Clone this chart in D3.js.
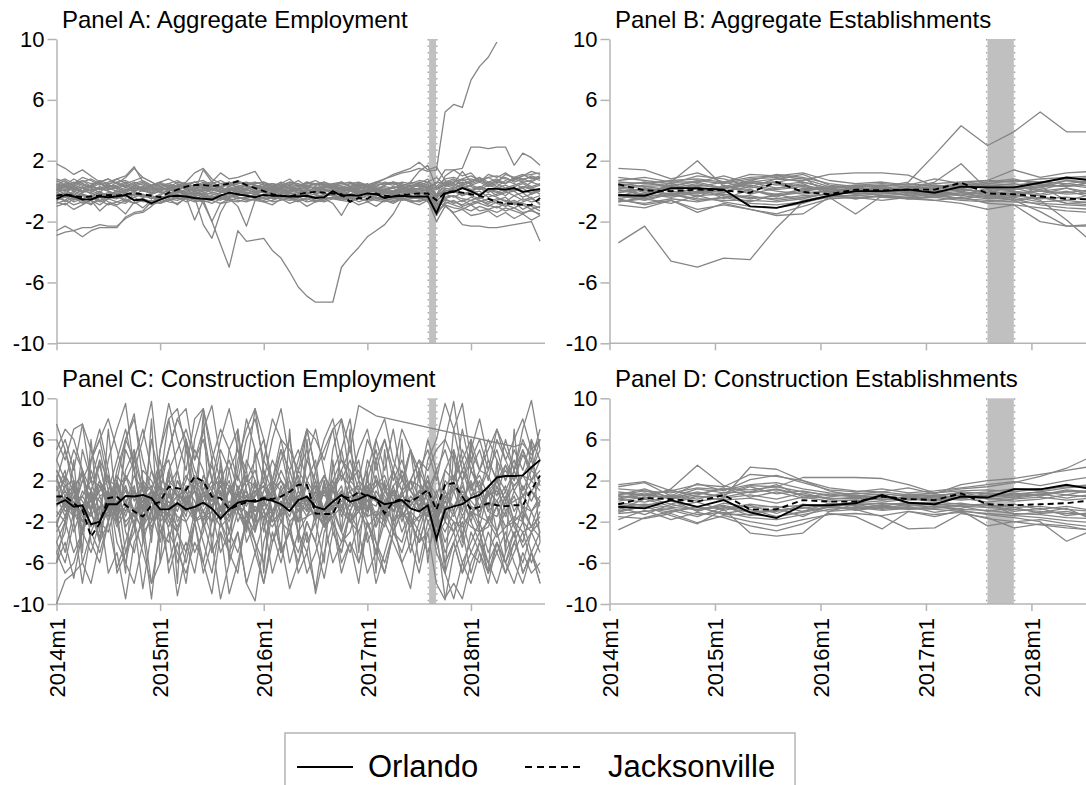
<!DOCTYPE html>
<html>
<head>
<meta charset="utf-8">
<script src="https://cdn.jsdelivr.net/npm/d3@7"></script>
<style>
  body { margin: 0; background: #fff; }
  svg { display: block; font-family: "Liberation Sans", Arial, sans-serif; }
</style>
</head>
<body>
<div id="chart"></div>
<script>

// month index 0 = 2014m1, quarterly points sit on the middle month
var monthIdx = d3.range(57);
var quarterIdx = d3.range(19).map(function (q) { return q * 3 + 1; });
var tickMonths = [0, 12, 24, 36, 48];
var tickLabels = ["2014m1", "2015m1", "2016m1", "2017m1", "2018m1"];
var yTicks = [10, 6, 2, -2, -6, -10];

// Panel A: aggregate employment (monthly)
var orlAggEmp = [-0.5,-0.25,-0.35,-0.55,-0.55,-0.35,-0.4,-0.35,-0.25,-0.6,-0.55,-0.8,-0.55,-0.35,-0.3,-0.35,-0.45,-0.5,-0.55,-0.3,-0.1,-0.2,-0.3,-0.4,-0.25,-0.3,-0.3,-0.35,-0.35,-0.3,-0.45,-0.4,0.0,-0.3,-0.25,-0.3,-0.15,-0.2,-0.45,-0.35,-0.3,-0.35,-0.35,-0.35,-1.45,-0.15,-0.05,0.2,0.0,-0.3,0.15,0.15,0.1,0.2,-0.05,0.05,0.15];
var jaxAggEmp = [-0.3,-0.2,-0.3,-0.4,-0.35,-0.3,-0.25,-0.3,-0.2,-0.15,-0.2,-0.3,-0.4,-0.1,0.1,0.3,0.4,0.4,0.35,0.4,0.5,0.65,0.4,0.2,0.0,-0.2,-0.3,-0.35,-0.2,-0.1,-0.05,-0.1,-0.15,-0.2,-0.7,-0.45,-0.5,-0.15,-0.3,-0.35,-0.25,-0.2,-0.15,-0.15,-0.6,-0.1,0.0,-0.1,-0.2,-0.3,-0.5,-0.7,-0.8,-0.85,-0.9,-0.9,-0.45];
var otherAggEmp = [
  [0.5,0.3,0.6,0.4,0.2,0.5,0.3,0.4,0.6,0.2,0.3,0.1,0.2,0.4,0.3,0.5,0.6,0.4,0.3,0.5,0.6,0.4,0.3,0.2,0.3,0.1,0.2,0.3,0.4,0.2,0.3,0.1,0.2,0.3,0.2,0.4,0.3,0.2,0.1,0.3,0.2,0.4,0.3,0.2,0.6,0.5,0.4,0.6,0.5,0.7,0.4,0.6,0.5,0.8,0.6,0.7,0.9],
  [-0.6,-0.4,-0.7,-0.5,-0.3,-0.6,-0.4,-0.5,-0.3,-0.6,-0.5,-0.7,-0.4,-0.3,-0.5,-0.4,-0.6,-0.5,-0.4,-0.6,-0.3,-0.5,-0.4,-0.3,-0.5,-0.4,-0.3,-0.5,-0.4,-0.6,-0.3,-0.4,-0.5,-0.3,-0.4,-0.5,-0.3,-0.4,-0.6,-0.5,-0.4,-0.3,-0.5,-0.4,-1.0,-0.6,-0.7,-0.9,-0.6,-0.8,-1.0,-0.7,-0.9,-1.1,-0.8,-1.0,-1.3],
  [0.2,0.0,0.3,-0.1,0.1,0.2,0.0,-0.2,0.1,0.3,0.0,-0.1,0.2,0.1,-0.1,0.0,0.2,0.3,0.1,0.0,0.2,0.1,-0.1,0.0,0.1,0.2,0.0,-0.1,0.1,0.0,0.2,0.1,0.0,-0.1,0.1,0.2,0.0,0.1,-0.1,0.0,0.2,0.1,0.0,0.1,-0.5,0.2,0.1,0.3,0.0,0.2,-0.1,0.3,0.1,0.0,0.2,-0.2,0.1],
  [-0.2,-0.4,-0.1,-0.3,-0.5,-0.2,-0.3,-0.1,-0.4,-0.2,-0.3,-0.5,-0.2,-0.1,-0.3,-0.2,-0.4,-0.1,-0.2,-0.3,-0.1,-0.2,-0.3,-0.4,-0.2,-0.1,-0.3,-0.2,-0.1,-0.3,-0.2,-0.4,-0.1,-0.2,-0.3,-0.1,-0.2,-0.3,-0.2,-0.1,-0.3,-0.2,-0.1,-0.3,-0.8,-0.4,-0.3,-0.5,-0.6,-0.4,-0.7,-0.5,-0.6,-0.8,-0.5,-0.7,-0.6],
  [0.8,0.6,0.4,0.7,0.5,0.6,0.8,0.5,0.3,0.6,0.4,0.2,0.4,0.5,0.3,0.4,0.2,0.5,0.6,0.3,0.4,0.5,0.6,0.4,0.3,0.5,0.4,0.2,0.3,0.5,0.4,0.6,0.3,0.4,0.5,0.3,0.2,0.4,0.5,0.6,0.4,0.5,0.7,0.6,0.3,0.8,0.9,0.7,0.8,0.6,0.9,1.0,0.8,0.7,1.0,1.1,1.2],
  [-0.8,-0.6,-0.9,-0.7,-0.8,-0.6,-0.9,-0.7,-0.5,-0.8,-0.6,-0.9,-0.7,-0.5,-0.6,-0.4,-0.5,-0.7,-0.6,-0.4,-0.5,-0.6,-0.7,-0.5,-0.6,-0.4,-0.5,-0.6,-0.5,-0.7,-0.6,-0.5,-0.4,-0.6,-0.7,-0.5,-0.6,-0.4,-0.5,-0.6,-0.5,-0.7,-0.6,-0.5,-1.3,-0.9,-1.1,-1.2,-0.9,-1.3,-1.2,-1.4,-1.1,-1.3,-1.5,-1.2,-1.6],
  [0.0,0.3,0.1,0.5,0.2,-0.1,0.4,0.2,0.0,0.3,0.5,0.2,0.0,0.2,0.4,0.1,0.0,0.2,0.4,0.2,0.1,-0.1,0.2,0.3,0.1,0.0,0.2,0.4,0.1,0.2,0.0,0.3,0.2,0.1,0.3,0.0,0.1,0.3,0.2,0.0,0.1,0.2,0.4,0.3,-0.2,0.3,0.5,0.2,0.4,0.6,0.3,0.5,0.2,0.4,0.6,0.3,0.5],
  [-0.4,-0.1,-0.5,-0.2,-0.6,-0.3,-0.1,-0.4,-0.2,0.0,-0.3,-0.4,-0.6,-0.2,0.0,-0.2,-0.1,-0.3,-0.5,-0.1,0.0,-0.3,-0.1,-0.2,0.0,-0.2,-0.4,-0.1,-0.3,-0.2,0.0,-0.2,-0.3,-0.4,0.0,-0.2,-0.1,0.0,-0.3,-0.2,0.0,-0.1,-0.2,0.0,-1.1,-0.2,-0.4,-0.1,-0.3,-0.5,-0.2,-0.4,-0.7,-0.3,-0.6,-0.4,-0.9],
  [0.6,0.8,0.5,0.9,0.7,0.4,0.6,0.8,0.5,0.7,0.9,0.6,0.3,0.5,0.7,0.4,0.6,0.3,0.5,0.7,0.4,0.3,0.5,0.6,0.4,0.5,0.3,0.6,0.4,0.5,0.7,0.4,0.5,0.6,0.3,0.5,0.4,0.6,0.5,0.4,0.6,0.5,0.4,0.6,0.9,0.4,0.6,0.8,1.0,0.7,0.9,0.6,1.1,0.9,0.7,1.0,0.8],
  [-0.3,-0.7,-0.4,-0.8,-0.6,-0.9,-0.5,-0.7,-0.8,-0.4,-0.7,-0.6,-0.8,-0.6,-0.4,-0.7,-0.5,-0.3,-0.6,-0.8,-0.7,-0.4,-0.6,-0.5,-0.7,-0.6,-0.4,-0.5,-0.7,-0.4,-0.6,-0.7,-0.5,-0.6,-0.4,-0.7,-0.5,-0.6,-0.7,-0.4,-0.6,-0.5,-0.4,-0.7,-1.5,-0.8,-0.6,-1.0,-0.8,-0.6,-0.9,-1.1,-0.8,-0.6,-0.9,-1.2,-1.0],
  [0.3,0.5,0.2,0.0,0.4,0.6,0.1,0.3,0.5,0.0,0.2,0.4,0.6,0.3,0.1,0.3,0.4,0.2,0.0,0.3,0.5,0.2,0.1,0.4,0.2,0.3,0.5,0.1,0.2,0.4,0.1,0.3,0.4,0.2,0.0,0.3,0.5,0.1,0.3,0.2,0.4,0.0,0.2,0.5,-0.4,0.6,0.3,0.8,0.4,0.2,0.6,0.3,0.7,0.5,0.2,0.6,0.4],
  [-0.5,-0.3,-0.6,-0.2,-0.4,-0.7,-0.5,-0.2,-0.6,-0.4,-0.2,-0.5,-0.3,-0.6,-0.4,-0.3,-0.2,-0.4,-0.3,-0.5,-0.2,-0.4,-0.5,-0.2,-0.3,-0.5,-0.4,-0.3,-0.2,-0.4,-0.5,-0.3,-0.2,-0.5,-0.4,-0.3,-0.5,-0.2,-0.4,-0.3,-0.5,-0.4,-0.3,-0.4,-1.2,-0.5,-0.8,-0.6,-0.9,-0.7,-0.5,-0.8,-1.0,-0.7,-1.2,-0.9,-1.1],
  [0.7,0.4,0.8,0.5,0.3,0.7,0.5,0.6,0.2,0.5,0.7,0.4,0.6,0.8,0.5,0.3,0.6,0.7,0.4,0.2,0.5,0.7,0.4,0.5,0.6,0.3,0.4,0.6,0.5,0.3,0.5,0.6,0.4,0.5,0.6,0.4,0.3,0.5,0.4,0.6,0.5,0.3,0.6,0.4,0.2,0.6,0.8,0.5,0.7,0.9,0.6,0.8,0.5,0.9,0.8,0.6,0.9],
  [-0.1,0.1,-0.3,0.2,-0.2,0.0,-0.4,0.1,-0.1,-0.3,0.1,-0.2,0.0,-0.3,0.2,-0.1,-0.2,0.1,-0.1,0.0,-0.2,0.1,-0.1,-0.2,0.0,0.1,-0.2,0.0,-0.1,0.1,-0.2,0.0,0.1,-0.1,-0.2,0.0,0.1,-0.1,0.0,-0.2,0.0,0.1,-0.2,-0.1,-0.7,-0.1,0.1,-0.3,0.0,-0.2,0.1,-0.3,-0.1,0.0,-0.4,-0.2,0.0],
  [-0.7,-0.9,-0.5,-0.6,-0.9,-0.4,-0.7,-0.9,-0.6,-0.8,-0.5,-0.7,-0.5,-0.7,-0.8,-0.5,-0.7,-0.6,-0.8,-0.5,-0.6,-0.7,-0.5,-0.6,-0.4,-0.7,-0.6,-0.4,-0.6,-0.5,-0.7,-0.6,-0.4,-0.5,-0.6,-0.4,-0.7,-0.5,-0.6,-0.7,-0.5,-0.6,-0.7,-0.5,-1.6,-0.7,-0.9,-1.1,-1.3,-1.0,-1.2,-1.0,-1.3,-1.1,-1.4,-1.3,-1.5],
  [0.4,0.7,0.3,0.6,0.8,0.5,0.2,0.6,0.7,0.4,0.6,0.3,0.5,0.2,0.6,0.5,0.3,0.6,0.4,0.3,0.6,0.2,0.4,0.5,0.6,0.4,0.2,0.5,0.3,0.6,0.4,0.5,0.3,0.2,0.5,0.6,0.4,0.3,0.6,0.5,0.3,0.6,0.5,0.3,0.1,0.5,0.7,0.4,0.6,0.8,0.5,0.7,0.9,0.6,0.8,0.9,0.7],
  [-0.4,-0.6,-0.2,-0.5,-0.3,-0.1,-0.5,-0.3,-0.7,-0.2,-0.4,-0.3,-0.5,-0.4,-0.2,-0.5,-0.3,-0.2,-0.4,-0.3,-0.4,-0.3,-0.2,-0.5,-0.4,-0.2,-0.3,-0.4,-0.2,-0.3,-0.4,-0.2,-0.3,-0.4,-0.5,-0.2,-0.3,-0.5,-0.4,-0.2,-0.3,-0.4,-0.5,-0.3,-0.9,-0.5,-0.3,-0.7,-0.4,-0.6,-0.8,-0.6,-0.4,-0.9,-0.7,-0.5,-0.8],
  [0.1,0.0,0.2,-0.1,0.3,0.1,0.2,0.0,-0.1,0.2,0.1,0.3,-0.1,0.0,0.2,0.3,0.0,-0.2,0.2,0.1,0.0,0.2,0.3,0.0,-0.1,0.1,0.3,0.2,0.0,0.1,-0.1,0.2,0.3,0.1,0.0,0.2,0.3,0.0,0.1,0.2,-0.1,0.2,0.1,0.3,-0.3,0.0,0.2,0.4,0.1,0.3,0.0,0.2,0.4,0.1,0.3,0.2,0.0],
  [1.8,1.5,1.1,1.4,1.0,0.6,0.8,0.5,0.9,1.5,0.9,0.6,0.3,0.1,0.4,0.2,0.0,1.4,0.6,1.2,0.8,0.9,1.1,1.3,0.4,0.2,0.5,0.8,0.3,0.6,0.5,0.4,0.2,0.6,0.3,0.5,0.2,0.1,0.4,0.6,0.2,0.3,0.5,0.8,-0.3,1.0,1.4,1.0,1.2,0.6,1.1,0.9,1.2,0.8,1.0,1.3,1.1],
  [-1.0,-0.8,-1.2,-0.9,-0.6,-1.3,-0.8,-1.0,-1.5,-0.7,-1.1,-0.6,-0.8,-0.5,-0.9,-0.4,-1.9,-0.6,-2.0,-0.8,-0.5,-1.0,-2.3,-0.6,-0.7,-0.9,-0.5,-0.8,-0.6,-1.0,-0.7,-0.5,-0.8,-1.6,-0.6,-0.9,-0.7,-1.0,-0.6,-0.8,-0.5,-0.7,-0.9,-0.6,-2.0,-1.0,-1.4,-1.2,-1.6,-1.5,-1.3,-1.7,-1.4,-1.8,-1.5,-1.9,-1.6],
  [-2.9,-2.7,-2.6,-2.4,-2.4,-2.2,-2.3,-2.3,-1.8,-1.5,-1.4,-1.0,-0.5,-0.2,0.1,-0.1,0.2,0.0,0.1,0.3,0.0,0.2,0.1,-0.1,0.2,0.0,0.1,0.2,-0.1,0.0,0.2,0.1,0.0,0.2,0.1,-0.1,0.0,0.2,0.1,0.0,-0.1,0.1,0.2,0.0,-0.4,0.0,0.1,-0.2,0.0,0.3,0.1,-0.1,0.2,0.0,0.3,0.1,-0.2],
  [-2.6,-2.3,-2.6,-3.0,-2.6,-2.4,-2.4,-2.4,-1.7,-1.4,-1.3,-0.7,-0.3,0.2,-0.1,0.1,-0.2,0.0,0.2,-0.1,0.1,0.0,-0.2,0.1,0.0,-0.1,0.1,0.0,0.2,-0.1,0.0,0.1,-0.2,0.0,0.1,0.0,-0.1,0.1,0.0,-0.2,0.1,0.0,-0.1,0.1,-0.6,-0.2,0.0,-0.3,-0.1,0.0,-0.4,-0.2,0.0,-0.3,-0.1,-0.5,-0.3],
  [0.2,0.4,0.1,0.3,0.0,0.2,0.4,0.3,0.1,0.2,0.0,0.3,0.1,0.2,0.4,0.1,-0.3,-0.8,-2.0,-3.5,-5.0,-2.6,-3.3,-3.2,-3.1,-3.9,-4.4,-5.3,-6.3,-6.9,-7.3,-7.3,-7.3,-5.0,-4.3,-3.7,-3.0,-2.6,-2.2,-1.5,-0.5,0.6,1.3,1.7,0.2,0.4,0.2,0.5,0.3,0.1,0.4,0.2,0.0,0.3,0.5,0.2,0.4],
  [0.1,-0.2,0.3,0.0,-0.1,0.2,0.0,-0.3,0.1,0.0,0.2,-0.1,0.0,0.3,0.1,-0.2,-0.4,-2.2,-3.1,-1.4,-0.4,-0.2,0.1,-0.1,0.0,0.2,-0.1,0.0,0.1,-0.2,0.0,0.1,-0.1,0.0,0.2,-0.1,0.0,0.1,-0.2,0.0,0.1,-0.1,0.0,0.2,-0.3,0.1,-0.1,0.2,0.0,-0.2,0.1,0.0,-0.3,0.2,0.0,-0.1,0.1],
  [0.3,0.1,0.4,0.2,0.0,0.3,0.1,0.2,0.4,0.1,0.3,0.0,0.2,0.1,0.3,0.2,0.0,0.1,0.3,0.2,0.1,0.3,0.0,0.2,0.1,0.3,0.2,0.0,0.1,0.3,0.2,0.1,0.0,0.2,0.3,0.1,0.4,0.6,0.8,1.0,1.2,1.3,1.5,1.3,1.4,5.2,5.7,5.5,7.3,8.2,8.8,9.8,null,null,null,null,null],
  [0.1,0.3,0.0,0.2,0.4,0.1,0.3,0.2,0.0,0.4,0.2,0.1,0.3,0.0,0.2,0.4,0.1,0.3,0.2,0.0,0.3,0.1,0.2,0.4,0.1,0.3,0.0,0.2,0.1,0.3,0.2,0.4,0.1,0.0,0.2,0.3,0.1,0.2,0.0,0.3,0.1,0.2,0.4,0.2,0.5,1.4,1.4,1.5,2.9,2.9,2.8,2.9,2.9,1.7,2.5,2.2,1.7],
  [-0.1,-0.3,0.0,-0.2,-0.4,-0.1,-0.3,0.0,-0.2,-0.1,-0.4,-0.2,0.0,-0.3,-0.1,-0.2,0.0,-0.3,-0.1,-0.2,-0.4,0.0,-0.2,-0.1,-0.3,0.0,-0.2,-0.1,-0.3,-0.2,0.0,-0.1,-0.3,-0.2,0.0,-0.1,-0.2,-0.3,0.0,-0.1,-0.2,0.0,-0.1,-0.2,-0.8,-0.9,-1.5,-2.2,-2.3,-2.3,-2.4,-2.4,-2.3,-2.2,-2.1,-2.0,-3.3],
  [0.4,0.2,0.5,0.7,0.3,0.6,0.4,0.8,1.0,1.6,0.6,0.3,0.5,0.2,0.4,0.6,1.2,1.5,0.8,0.5,0.3,0.6,0.4,0.2,0.5,0.3,0.6,0.4,0.7,0.3,0.5,0.2,0.4,0.6,0.3,0.5,0.3,0.5,0.8,1.1,1.3,1.5,1.9,1.4,1.6,0.7,0.5,1.3,0.6,0.9,0.4,0.7,0.5,0.9,1.1,0.8,1.0]
];

// Panel B: aggregate establishments (quarterly)
var orlAggEst = [-0.25,-0.3,0.2,0.2,0.1,-1.0,-1.1,-0.7,-0.3,0.0,0.0,0.1,-0.1,0.3,0.25,0.25,0.55,0.9,0.7];
var jaxAggEst = [0.45,0.05,0.0,0.1,0.05,-0.1,0.6,-0.05,-0.2,0.1,0.05,0.1,0.1,0.55,-0.15,-0.2,-0.35,-0.5,-0.55];
var otherAggEst = [
  [0.6,0.5,0.7,0.8,0.6,0.9,1.0,0.8,0.3,0.4,0.5,0.4,0.5,0.6,0.7,0.6,0.8,0.9,1.0],
  [-0.6,-0.8,-0.5,-0.7,-0.4,-0.8,-0.9,-0.7,-0.4,-0.3,-0.4,-0.5,-0.3,-0.5,-0.6,-0.7,-0.8,-0.9,-1.0],
  [0.2,0.3,0.1,0.4,0.2,0.5,0.6,0.3,0.1,0.2,0.0,0.2,0.1,0.3,0.2,0.1,0.3,0.4,0.2],
  [-0.2,-0.4,-0.1,-0.3,-0.2,-0.4,-0.5,-0.3,-0.2,-0.1,-0.3,-0.2,-0.1,-0.2,-0.4,-0.3,-0.5,-0.4,-0.6],
  [0.9,0.7,0.5,1.0,0.8,0.3,0.8,1.1,0.4,0.2,0.4,0.3,0.4,0.3,0.5,0.4,0.6,0.5,0.7],
  [-0.9,-1.1,-0.6,-1.2,-0.9,-1.2,-1.5,-1.0,-0.5,-0.4,-0.6,-0.4,-0.6,-0.4,-0.8,-0.9,-1.1,-1.3,-1.4],
  [0.0,0.1,-0.2,0.2,0.0,0.3,0.0,-0.2,0.0,0.1,0.2,0.0,-0.1,0.1,0.0,-0.2,0.0,-0.1,0.1],
  [0.4,-0.1,0.3,-0.4,0.4,-0.2,0.2,0.5,-0.2,0.3,-0.1,0.2,0.3,0.0,0.4,0.2,-0.2,0.2,-0.3],
  [-0.4,0.2,-0.3,0.3,-0.5,0.1,-0.3,0.0,0.2,-0.2,0.1,-0.3,0.0,-0.3,0.1,-0.4,0.3,-0.6,-0.2],
  [0.3,0.6,0.2,0.5,0.1,0.7,0.4,0.6,0.2,0.4,0.3,0.1,0.2,0.5,0.3,0.5,0.2,0.7,0.5],
  [0.4,0.6,0.3,0.7,0.5,0.8,0.9,0.6,0.2,0.3,0.4,0.3,0.2,0.4,0.5,0.7,0.6,0.8,0.9],
  [-0.3,-0.6,-0.2,-0.5,-0.6,-0.6,-0.7,-0.5,-0.1,-0.2,-0.1,-0.3,-0.2,-0.3,-0.5,-0.4,-0.7,-0.6,-0.8],
  [0.1,-0.2,0.4,0.1,-0.1,0.6,0.2,0.4,0.0,0.1,-0.1,0.1,0.2,0.1,-0.1,0.3,0.1,0.5,0.3],
  [-0.7,-0.5,-0.8,-0.3,-0.7,-1.0,-1.1,-0.8,-0.3,-0.5,-0.3,-0.5,-0.4,-0.6,-0.7,-0.5,-0.9,-1.1,-1.2],
  [0.7,0.9,0.6,0.6,1.0,0.5,0.6,0.9,0.5,0.3,0.3,0.5,0.3,0.4,0.6,0.8,0.4,0.7,0.6],
  [-0.1,0.2,0.0,-0.2,0.3,0.1,-0.4,0.2,0.1,0.0,0.2,-0.1,0.0,0.2,-0.2,0.0,-0.3,0.0,-0.4],
  [0.2,0.4,0.5,0.3,0.6,0.2,0.5,0.0,0.3,0.2,0.1,0.3,0.4,0.2,0.3,0.1,0.4,0.3,0.6],
  [-0.5,-0.2,-0.4,-0.1,-0.3,-0.7,-0.2,-0.6,-0.3,-0.3,-0.2,-0.1,-0.4,-0.1,-0.2,-0.6,-0.4,-0.8,-0.7],
  [-3.4,-2.3,-4.6,-5.0,-4.4,-4.5,-2.4,-0.7,-0.3,0.0,-0.1,0.1,-0.2,0.0,-0.3,-0.1,0.0,-0.2,-0.1],
  [0.2,0.0,0.3,0.1,0.2,0.4,0.1,0.3,0.2,0.0,0.3,0.6,2.4,4.3,3.0,3.9,5.2,3.9,3.9],
  [0.1,-0.3,0.2,-0.1,0.3,0.0,-0.2,0.1,0.2,-0.1,0.1,0.2,0.6,1.8,0.1,0.3,0.0,0.2,-0.1],
  [-0.3,-0.5,-0.2,-0.6,-0.4,-0.3,-0.6,-0.4,-0.2,-0.5,-0.3,-0.4,-0.2,-0.5,-0.3,-0.6,-1.35,-2.3,-2.3],
  [-0.1,0.1,-0.3,0.0,-0.2,-0.5,-0.3,-0.1,0.0,-0.2,-0.1,0.0,-0.3,-0.1,-0.4,-0.2,-0.6,-1.9,-3.4],
  [1.5,1.4,0.8,1.2,0.6,1.1,1.0,1.2,0.7,0.5,0.6,0.4,0.8,0.5,0.7,1.4,0.9,1.2,1.3],
  [-0.7,-0.4,0.6,2.0,0.3,0.7,1.1,0.9,-0.2,0.1,0.3,-0.2,0.1,-0.3,0.2,0.0,-0.3,-0.8,-0.9],
  [0.5,0.3,0.4,0.6,0.2,0.6,0.8,0.7,1.1,1.2,1.2,1.05,0.3,0.5,0.4,0.2,0.5,0.3,0.6],
  [-0.5,-0.9,-0.6,-1.4,-0.8,-1.2,-1.6,-1.5,-0.4,-1.5,-0.3,-0.5,-0.6,-0.8,-1.2,-0.9,-2.0,-2.3,-2.2]
];

// Panel C: construction employment (monthly)
var orlConEmp = [-0.3,0.1,-0.55,-0.4,-2.25,-2.0,-0.3,-0.3,0.5,0.45,0.6,0.3,-0.8,-0.8,-0.2,-0.8,-0.55,-0.15,-0.7,-1.7,-0.8,-0.15,0.05,-0.05,0.2,0.05,-0.3,-0.95,0.1,0.45,-0.55,-0.8,-0.05,0.6,-0.05,0.2,0.6,0.2,-0.3,-0.15,0.1,-0.7,-1.0,-0.4,-3.7,-0.8,-0.5,-0.3,0.3,0.6,1.4,2.3,2.45,2.45,2.5,3.3,4.0];
var jaxConEmp = [0.45,0.45,-0.2,-0.85,-3.45,-2.15,0.3,0.45,-0.4,-1.0,-1.5,-0.4,-0.05,1.4,1.25,1.1,2.4,1.9,0.45,0.3,-0.8,-0.4,-0.1,0.1,0.3,0.2,0.45,0.9,1.6,1.6,-1.2,-1.25,-1.25,0.45,0.3,0.9,0.45,0.3,-1.2,-0.05,0.2,-0.05,0.45,1.1,-0.85,1.6,1.75,0.45,-0.8,-0.55,-0.2,-0.4,-0.5,-0.4,-0.4,1.1,2.5];
var otherConEmp = [
  [1,2,-1,0.5,2,1.5,-0.5,1,2.5,0,1.5,-1,0.5,2,1,-0.5,1.5,2,0,1,-1,0.5,2,1.5,-0.5,1,2,0.5,-1,1.5,0,1,2,-0.5,1,1.5,0,2,0.5,-1,1,2,0.5,1,-2,1.5,2.5,0.5,1.5,-0.5,1,2,0,1.5,2.5,1,2],
  [-1,-2,0.5,-1.5,-2.5,-0.5,-1.5,0,-2,-1,-0.5,-2.5,-1,0,-1.5,-2,-0.5,-1,-2,-1.5,0,-1,-2.5,-0.5,-1.5,-1,0,-2,-1,-0.5,-1.5,-2,0,-1,-2,-0.5,-1.5,-1,-2,0,-1.5,-1,-2,-0.5,-3,-1,-2,-2.5,-1,-1.5,-2,-0.5,-2.5,-1.5,-2,-3,-1],
  [2,0.5,1.5,2.5,0,1,2,1.5,-0.5,2.5,1,0,2,1.5,0.5,2.5,1,0,1.5,2,1,2.5,0,1,1.5,0.5,2,1,2.5,0,1.5,0.5,1,2.5,1.5,0,1,2,1.5,0.5,2,1,0,2.5,-1,2,1,3,1.5,2.5,0.5,2,3,1.5,2.5,2,3],
  [-2,-0.5,-1.5,-1,0.5,-2.5,-1,-2,-0.5,-1.5,-2.5,0,-2,-1,-2.5,-0.5,-2,-1.5,-1,-2.5,-1.5,-0.5,-1,-2,-1.5,-2.5,-1,-0.5,-2,-1.5,-1,-2.5,-1.5,-0.5,-2,-1,-2.5,-1.5,-0.5,-2,-1,-2.5,-1.5,-1,-3.5,-2,-3,-1.5,-2.5,-3,-2,-3.5,-2.5,-2,-3,-2.5,-3.5],
  [0,1,-0.5,0.5,-1,1.5,0,-0.5,1,0.5,-1,1,0,-0.5,0.5,1,-1,0.5,0,1.5,-0.5,0,1,-1,0.5,0,-0.5,1,0,-1,0.5,1,-0.5,0,1,-1,0.5,0,-0.5,1,0,-0.5,1,0.5,-1.5,0.5,-0.5,1,0,-1,0.5,1,-0.5,0,0.5,-1,0.5],
  [1.5,-1,0,-2,1,0,-1.5,2,-0.5,-2,0.5,1.5,-1,-2.5,0,1,-1.5,0.5,2,-1,1,-0.5,-2,0.5,1.5,-1,0,-1.5,1,-0.5,2,-1,0,1.5,-2,0.5,-1,1,-0.5,1.5,-1.5,0,1,-1,-2.5,1,-1,2,-1.5,0.5,-2,1.5,-1,0.5,-2,1,-0.5],
  [-0.5,1.5,2,-1,-0.5,1,2.5,-1.5,0,1,-2,0.5,1.5,-1,2,0,-1.5,1,-0.5,2,1.5,-2,0,0.5,2,-1.5,1,2,-0.5,0.5,-2,1.5,-1,0,-0.5,2,1,-1.5,1,-0.5,0.5,2,-1,-1.5,1,-1,1.5,0,2,-1.5,1.5,-0.5,1,-2,1.5,0,2],
  [0.5,-1.5,1,0,-1.5,0.5,1,-1,1.5,-1.5,0,1,-1.5,0.5,-1,1.5,0,-2,1,-0.5,-1.5,1,0.5,-1,0,1.5,-1.5,0,0.5,1.5,-1,-0.5,1.5,-1.5,0.5,-1,1.5,0,-1,1,-2,0.5,-0.5,1.5,-2,0,-1.5,0.5,-2,1,-1,-1.5,0.5,-2,-1,-2.5,0],
  [2.5,-0.5,1,3,-1,2,0.5,-2,2.5,1,-0.5,3,0,-1.5,2,0.5,-1,2.5,1,-2,1.5,0,2.5,-1,1,2,-1.5,0.5,2,-0.5,1,2.5,0,-1,2,1,-1.5,2.5,0,1,-1,2,1.5,-1,0.5,-2,1,3,0.5,2,-1,2.5,1,3,0.5,2,1],
  [-2.5,0.5,-1,-3,1,-2,-0.5,2,-2.5,-1,0.5,-3,0,1.5,-2,-0.5,1,-2.5,-1,2,-1.5,0,-2.5,1,-1,-2,1.5,-0.5,-2,0.5,-1,-2.5,0,1,-2,-1,1.5,-2.5,0,-1,1,-2,-1.5,1,-1.5,-3,-1,-3.5,-0.5,-2.5,1,-3,-1,-3.5,-0.5,-2.5,-1.5],
  [0,2.5,1,-1,3,0.5,-2,1.5,0,-2.5,2,1,-1,3,0.5,-1.5,2.5,-0.5,1,3,-1,1.5,0,2,-2,0.5,3,1,-1,2,0.5,-2,1.5,3,0,-1,2,0.5,-2,1.5,2.5,-0.5,1,2,-1,0,2,-1,3,1.5,-0.5,2,3.5,1,2.5,4,1.5],
  [-1.5,0,-3,-0.5,1,-2,-3,0,-1,1.5,-2.5,-1,0.5,-2,-3,0,-1.5,1,-2,-0.5,-3,0,1,-2.5,-1,0.5,-2,-3,0,-1.5,1,-2,-0.5,-3,0,-1,1,-2.5,-0.5,-2,0,-1.5,-3,0,-2.5,-1,-3,0,-2,-4,-1.5,-3,0,-2.5,-4,-1,-3],
  [3,1.5,-0.5,2,1,3.5,0,2.5,1,-1,3,2,0,1.5,3,-0.5,2,1,3.5,0.5,2,-1,1.5,3,0,2,1,-0.5,3,1.5,0,2.5,1,-1,2,3,0.5,1.5,2.5,0,3,1,-0.5,2,0.5,3,2,4,1,3,2.5,0.5,3.5,2,4.5,3,2],
  [-3,-1.5,0.5,-2,-1,-3.5,0,-2.5,-1,1,-3,-2,0,-1.5,-3,0.5,-2,-1,-3.5,-0.5,-2,1,-1.5,-3,0,-2,-1,0.5,-3,-1.5,0,-2.5,-1,1,-2,-3,-0.5,-1.5,-2.5,0,-3,-1,0.5,-2,-1,-4,-2,-4.5,-1,-3,-2.5,-0.5,-4,-2,-4.5,-3,-2],
  [0.5,-0.5,1.5,-1,0,2,-0.5,0.5,-1.5,1,0,-1,1.5,0.5,-0.5,0,1,-1,0.5,-1.5,1,0.5,-0.5,1.5,0,-1,0.5,1,-0.5,0,1.5,-1,0,0.5,-1,1,0,-0.5,1.5,-1,0.5,0,-1,1,-2,0.5,1,-1.5,0.5,1,-1,0,1.5,-1,0.5,1,0],
  [-0.5,0.5,-1.5,1,0,-2,0.5,-0.5,1.5,-1,0,1,-1.5,-0.5,0.5,0,-1,1,-0.5,1.5,-1,-0.5,0.5,-1.5,0,1,-0.5,-1,0.5,0,-1.5,1,0,-0.5,1,-1,0,0.5,-1.5,1,-0.5,0,1,-1,-3,-0.5,-1,1.5,-0.5,-1,1,0,-1.5,1,-0.5,-1,0],
  [4,2,5,3,-1,4,2,-2,3,5,1,-1,3,4,0,2,5,3,-1,2,4,1,3,-2,1,4,2,0,3,5,1,-1,2,4,3,0,2,5,1,3,-1,2,4,1,-2,3,5,2,4,1,3,5,2,4,1,3,5],
  [-4,-2,-5,-3,1,-4,-2,2,-3,-5,-1,1,-3,-4,0,-2,-5,-3,1,-2,-4,-1,-3,2,-1,-4,-2,0,-3,-5,-1,1,-2,-4,-3,0,-2,-5,-1,-3,1,-2,-4,-1,-1,-5,-3,-6,-4,-2,-5,-3,-6,-4,-2,-5,-3],
  [2,5,1,-3,4,6,2,-1,5,3,-2,1,4,-1,3,6,2,-2,1,5,3,-1,4,2,-3,1,5,3,0,4,2,-2,3,5,1,-1,4,2,-2,3,1,5,2,0,3,-1,2,5,3,1,4,2,0,3,5,2,4],
  [-2,-5,-1,3,-4,-6,-2,1,-5,-3,2,-1,-4,1,-3,-6,-2,2,-1,-5,-3,1,-4,-2,3,-1,-5,-3,0,-4,-2,2,-3,-5,-1,1,-4,-2,2,-3,-1,-5,-2,0,-5,-7,-4,-2,-5,-6,-3,-5,-7,-4,-6,-3,-5],
  [5,7,6,3,1,4,-1,2,6,8,4,1,-2,3,5,7,4,6,2,-1,3,5,2,4,6,1,-1,3,5,2,4,-2,1,3,5,2,-1,4,6,3,1,2,4,3,5,6,4,2,5,3,6,4,2,5,3,6,4],
  [-5,-7,-6,-3,-1,-4,1,-2,-6,-8,-4,-1,2,-3,-5,-7,-4,-6,-2,1,-3,-5,-2,-4,-6,-1,1,-3,-5,-2,-4,2,-1,-3,-5,-2,1,-4,-6,-3,-1,-2,-4,-3,-1,-6,-4,-7,-5,-3,-6,-4,-7,-5,-3,-6,-4],
  [-10,-7.7,-7,-6,-3,-5,-2,-6.5,-4,-1,-3,-9.5,-2,-6,-3,-5,-1,-4,-7,-2,-5,-3,-8,-9.7,-4,-1,-5,-3,-6,-2,-4,-7.5,-3,-5,-1,-6,-2,-4,-7,-3,-5,-2,-4,-1,-3,-9.4,-8,-9.5,-6,-4,-7,-5,-3,-6,-8,-5,-7],
  [6,4,7,7.5,2,5,1,4,7,3,6,9.7,2,5,8,9,4,7,2,6,9,5,3,9,6,2,5,1,4,7,3,6,8,4,2,5,7,3,6,2,4,1,3,5,2,6,9.7,4,6,3,5,7,4,6,8,5,6],
  [3,1,-1,2,4,6,8,5,2,4,7,3,1,5,8,6,3,1,4,7,5,2,6,8,4,2,6,5,3,7,6,4,7,8,5,9.3,8.8,8.3,null,null,null,null,null,null,null,null,null,null,null,null,null,null,null,5.3,5.6,4.5,6],
  [1,3,-2,5,2,-1,4,7,9.5,3,-1,6,2,8,9,5,1,7,9.3,4,-1,3,8,5,2,6,9,4,1,7,3,-2,5,8,2,4,-1,6,3,7,2,5,-1,4,6,9.5,7,3,5,8,4,2,6,3,7,9.8,5],
  [-4,-6,-2,-8,-3,-1,-7,-5,-9.5,-4,-2,-8,-6,-3,-9.2,-5,-2,-7,-4,-9.5,-6,-3,-8,-5,-2,-7,-4,-8.5,-6,-3,-9,-5,-2,-7,-4,-6,-3,-8,-5,-2,-6,-4,-7,-3,-8,-9.6,-5,-3,-7,-4,-6,-8,-5,-3,-7,-5,-8],
  [-6,-2,4,-5,6,-3,7,-1,-7,5,-4,8,-6,3,-8,6,-2,8.5,-5,4,-6,7,-3,5,-7,2,-5,7,-4,6,-2,-6,4,-3,7,-5,3,-7,5,-2,6,-4,3,-6,0,-7,5,-4,6,-3,-7,4,-5,7,-2,6,-4],
  [7.5,5,2,-3,4,7,3,-2,6,8.5,2,-4,5,8,3,-1,6,9,4,-2,5,7,1,-3,4,8,6,2,-2,4,7,3,-1,5,8,2,6,4,-1,3,7,5,2,6,3,-2,7,9.5,4,6,3,7,5,3,6,4,7],
  [-5,-3,2,-6,-8,-4,1,-7,-5,-2,-8.5,-3,1,-7,-4,-8,-2,-6,-9,-3,-5,-7,-1,-4,-8,-3,-6,-2,-7,-5,-8.5,-3,-1,-6,-4,-8,-2,-5,-7,-3,-4,-1,-6,-2,-4,-7,-9.5,-6,-8,-5,-7,-4,-6,-8,-5,-7,-6],
  [4,6,3,7.5,5,2,-1,3,6,4,1,-2,5,9.5,6,3,8,9,5,2,-1,4,7,9,3,1,4,6,2,-1,3,5,7,2,4,1,3,6,8,4,2,5,3,1,3,5,2,7,3,5,2,6,4,2,5,3,6],
  [-6,-4,-7.5,-3,-5,-2,1,-4,-6,-2,-5,-8,-3,-1,-6,-4,-7,-2,-5,-3,-9,-6,-2,-5,-8,-4,-1,-6,-3,-7,-5,-2,-6,-4,-1,-3,-7,-5,-2,-4,-6,-8.5,-3,-5,-2,-6,-4,-7,-3,-5,-8,-4,-6,-3,-7,-5,-8]
];

// Panel D: construction establishments (quarterly)
var orlConEst = [-0.55,-0.7,0.1,-0.55,0.1,-1.1,-1.65,-0.4,-0.4,-0.2,0.6,-0.15,-0.3,0.45,0.35,1.15,1.15,1.6,1.15];
var jaxConEst = [-0.3,0.3,0.2,-0.05,0.6,-0.8,-0.8,0.1,-0.05,-0.05,0.45,0.2,0.1,0.75,-0.3,-0.4,-0.3,-0.2,0.1];
var otherConEst = [
  [1.2,1.0,0.8,1.3,1.1,1.6,1.8,1.2,0.8,0.7,0.9,0.6,0.8,1.0,1.1,0.9,1.2,1.4,1.6],
  [-1.2,-1.0,-0.7,-1.3,-1.1,-1.6,-1.8,-1.3,-0.8,-0.6,-0.9,-0.7,-0.8,-1.0,-1.2,-1.4,-1.6,-1.9,-2.1],
  [0.5,0.3,0.6,0.2,0.8,0.9,1.1,0.6,0.3,0.2,0.4,0.3,0.1,0.4,0.6,0.5,0.7,0.9,1.0],
  [-0.5,-0.3,-0.6,-0.8,-0.4,-1.0,-0.9,-0.7,-0.3,-0.4,-0.2,-0.4,-0.3,-0.5,-0.6,-0.8,-1.0,-1.2,-1.3],
  [0.0,0.4,-0.3,0.5,0.1,0.3,-0.2,0.4,0.0,0.1,-0.1,0.2,0.0,0.3,-0.1,0.2,0.4,0.1,0.3],
  [-0.8,0.2,-0.5,-0.1,-0.9,-0.4,-1.2,-0.3,-0.6,-0.2,-0.5,-0.1,-0.4,-0.2,-0.6,-0.3,-0.8,-0.5,-0.9],
  [0.8,0.5,1.1,0.4,0.6,1.4,0.7,1.0,0.5,0.6,0.3,0.7,0.5,0.8,0.4,0.7,0.9,0.6,1.1],
  [-0.3,-0.7,0.1,-1.0,-0.2,-0.6,-0.5,-1.0,-0.2,-0.5,-0.7,-0.3,-0.6,-0.4,-0.3,-1.0,-0.7,-1.4,-1.1],
  [1.4,1.8,0.5,1.7,1.0,2.1,2.5,1.8,1.1,0.9,1.2,0.8,1.0,1.3,1.6,1.9,1.5,2.0,2.4],
  [-1.5,-1.7,-1.2,-2.1,-1.4,-2.0,-2.4,-1.8,-1.3,-1.2,-1.4,-1.0,-1.3,-1.1,-1.7,-2.0,-2.3,-2.6,-2.8],
  [0.9,0.6,1.0,0.7,1.2,1.1,1.4,0.9,0.6,0.5,0.7,0.5,0.6,0.7,0.9,1.2,1.0,1.5,1.3],
  [-0.9,-0.6,-1.1,-0.5,-1.3,-1.3,-1.5,-1.1,-0.6,-0.8,-0.5,-0.6,-0.5,-0.8,-0.9,-1.2,-1.3,-1.6,-1.7],
  [0.2,-0.1,0.5,0.0,0.3,0.6,0.2,0.8,0.2,0.3,0.1,0.5,0.3,0.1,0.3,0.0,0.2,0.6,0.4],
  [-0.2,-0.4,0.0,-0.6,-0.7,-0.3,-0.6,-0.4,-0.4,-0.1,-0.3,-0.2,-0.1,-0.3,-0.4,-0.6,-0.5,-0.8,-1.0],
  [0.6,1.2,0.3,0.9,0.4,0.9,1.6,0.4,0.7,0.4,0.5,0.2,0.3,0.6,0.2,0.4,0.7,0.3,0.7],
  [-0.6,-1.3,-0.3,-0.9,-0.5,-1.4,-0.7,-1.5,-0.4,-0.9,-0.6,-0.8,-0.7,-0.5,-1.0,-0.6,-1.2,-1.0,-1.5],
  [0.3,0.8,0.2,0.6,1.3,0.4,0.9,0.3,0.4,0.8,0.6,0.1,0.4,0.9,0.7,0.3,0.6,1.1,0.9],
  [-1.1,-0.4,-0.9,-1.5,-0.6,-1.1,-1.0,-0.6,-1.0,-0.3,-0.8,-0.5,-1.1,-0.7,-0.2,-1.3,-1.1,-0.7,-1.8],
  [0.5,0.3,1.2,3.5,1.5,0.8,1.2,0.6,0.2,0.4,0.1,0.3,0.5,0.2,0.8,0.6,0.9,1.3,1.5],
  [0.2,0.6,0.3,0.8,0.4,3.3,3.1,2.0,1.0,0.5,0.2,0.4,0.1,0.6,0.3,0.8,0.5,1.0,0.8],
  [0.6,1.0,0.4,1.2,0.8,1.5,1.4,2.3,2.3,2.3,2.2,1.6,0.8,1.2,1.4,1.8,2.4,3.2,4.4],
  [-2.8,-1.6,-1.0,-0.6,-1.2,-0.8,-1.5,-1.0,-0.5,-0.7,-0.4,-0.8,-0.5,-0.9,-1.3,-1.6,-2.0,-3.9,-2.8],
  [-1.0,-0.5,-1.4,-2.2,-0.8,-3.1,-3.4,-3.1,-1.0,-0.8,-1.5,-2.7,-2.6,-1.2,-1.6,-2.6,-2.2,-2.4,-2.9],
  [1.6,1.9,1.0,1.6,1.4,2.6,2.4,2.0,1.3,1.0,0.9,1.3,0.7,1.6,2.0,2.2,2.6,3.0,3.4],
  [-1.8,-0.9,-1.8,-1.1,-1.6,-2.4,-2.9,-2.2,-1.2,-1.5,-2.7,-1.0,-1.5,-0.9,-2.4,-2.0,-1.8,-2.2,-2.5]
];

var W = 1086, H = 785;
var GRAY = "#858585", AXIS = "#b4b4b4", BAND = "#c0c0c0";

var panels = [
    {id: "a", title: "Panel A: Aggregate Employment", xs: monthIdx, orl: orlAggEmp, jax: jaxAggEmp, others: otherAggEmp,
     left: 56.5, perMonth: 8.635, right: 545, top: 39, bottom: 343.3, band: [43.15, 43.95], labels: false},
    {id: "b", title: "Panel B: Aggregate Establishments", xs: quarterIdx, orl: orlAggEst, jax: jaxAggEst, others: otherAggEst,
     left: 609.5, perMonth: 8.79, right: 1086, top: 39, bottom: 343.3, band: [43, 46], labels: false},
    {id: "c", title: "Panel C: Construction Employment", xs: monthIdx, orl: orlConEmp, jax: jaxConEmp, others: otherConEmp,
     left: 56.5, perMonth: 8.635, right: 545, top: 398.3, bottom: 604, band: [43.15, 43.95], labels: true},
    {id: "d", title: "Panel D: Construction Establishments", xs: quarterIdx, orl: orlConEst, jax: jaxConEst, others: otherConEst,
     left: 609.5, perMonth: 8.79, right: 1086, top: 398.3, bottom: 604, band: [43, 46], labels: true}
];

var svg = d3.select("#chart").append("svg")
    .attr("width", W)
    .attr("height", H);

var defs = svg.append("defs");

panels.forEach(function (p) {
    var x = d3.scaleLinear().domain([0, 48]).range([p.left, p.left + 48 * p.perMonth]);
    var y = d3.scaleLinear().domain([-10, 10]).range([p.bottom, p.top]);

    defs.append("clipPath").attr("id", "clip-" + p.id)
        .append("rect")
        .attr("x", p.left - 1).attr("y", p.top - 2)
        .attr("width", p.right - p.left + 1).attr("height", p.bottom - p.top + 4);

    var g = svg.append("g");

    // hurricane band
    var b0 = x(p.band[0]), b1 = x(p.band[1]);
    g.append("rect")
        .attr("x", b0).attr("y", p.top)
        .attr("width", b1 - b0).attr("height", p.bottom - p.top)
        .attr("fill", BAND);
    [b0 - 0.8, b1 + 0.8].forEach(function (bx) {
        g.append("line")
            .attr("x1", bx).attr("x2", bx)
            .attr("y1", p.top).attr("y2", p.bottom)
            .attr("stroke", "#a8a8a8")
            .attr("stroke-width", 1.4)
            .attr("stroke-dasharray", "1.5,5");
    });

    // axes
    var yAxis = g.append("g")
        .attr("transform", "translate(" + p.left + ",0)")
        .call(d3.axisLeft(y).tickValues(yTicks).tickSize(9).tickSizeOuter(0).tickPadding(3)
            .tickFormat(function (d) { return String(d); }));
    var xAxis = g.append("g")
        .attr("transform", "translate(0," + p.bottom + ")")
        .call(d3.axisBottom(x).tickValues(tickMonths).tickSize(7).tickSizeOuter(0)
            .tickFormat(function (d, i) { return p.labels ? tickLabels[i] : ""; }));
    xAxis.select(".domain").remove();
    g.append("line")
        .attr("x1", p.left).attr("x2", p.right)
        .attr("y1", p.bottom).attr("y2", p.bottom)
        .attr("stroke", AXIS).attr("stroke-width", 1.5);

    [yAxis, xAxis].forEach(function (ax) {
        ax.selectAll(".domain, .tick line").attr("stroke", AXIS).attr("stroke-width", 1.5);
        ax.selectAll("text")
            .attr("fill", "#000")
            .style("font-size", "22px")
            .style("font-family", "'Liberation Sans', Arial, sans-serif");
    });
    if (p.labels) {
        xAxis.selectAll("text")
            .attr("transform", "rotate(-90)")
            .attr("x", -14).attr("y", 0).attr("dy", "0.35em")
            .style("text-anchor", "end");
    }

    // series
    var line = d3.line()
        .x(function (d) { return x(d.m); })
        .y(function (d) { return y(d.v); });
    function pts(vals) {
        return vals.map(function (v, i) { return {m: p.xs[i], v: v}; })
            .filter(function (d) { return d.v !== null; });
    }

    var plot = g.append("g").attr("clip-path", "url(#clip-" + p.id + ")");
    plot.selectAll("path.other")
        .data(p.others)
        .enter()
        .append("path")
        .attr("class", "other")
        .attr("d", function (d) { return line(pts(d)); })
        .attr("fill", "none")
        .attr("stroke", GRAY)
        .attr("stroke-width", 1.3)
        .attr("stroke-linejoin", "round");
    plot.append("path")
        .attr("d", line(pts(p.jax)))
        .attr("fill", "none")
        .attr("stroke", "#000")
        .attr("stroke-width", 1.9)
        .attr("stroke-dasharray", "6,4");
    plot.append("path")
        .attr("d", line(pts(p.orl)))
        .attr("fill", "none")
        .attr("stroke", "#000")
        .attr("stroke-width", 1.9);

    g.append("text")
        .attr("x", p.left + 5.5)
        .attr("y", p.top - 11)
        .style("font-size", "24px")
        .text(p.title);
});

// legend
var leg = svg.append("g");
leg.append("rect")
    .attr("x", 285).attr("y", 733)
    .attr("width", 510).attr("height", 70)
    .attr("fill", "#fff")
    .attr("stroke", AXIS).attr("stroke-width", 1.5);
leg.append("line")
    .attr("x1", 297).attr("x2", 353).attr("y1", 767).attr("y2", 767)
    .attr("stroke", "#000").attr("stroke-width", 1.8);
leg.append("text").attr("x", 368).attr("y", 777).style("font-size", "31px").text("Orlando");
leg.append("line")
    .attr("x1", 525).attr("x2", 582).attr("y1", 767).attr("y2", 767)
    .attr("stroke", "#000").attr("stroke-width", 1.8)
    .attr("stroke-dasharray", "7,5");
leg.append("text").attr("x", 608).attr("y", 777).style("font-size", "31px").text("Jacksonville");

</script>
</body>
</html>
